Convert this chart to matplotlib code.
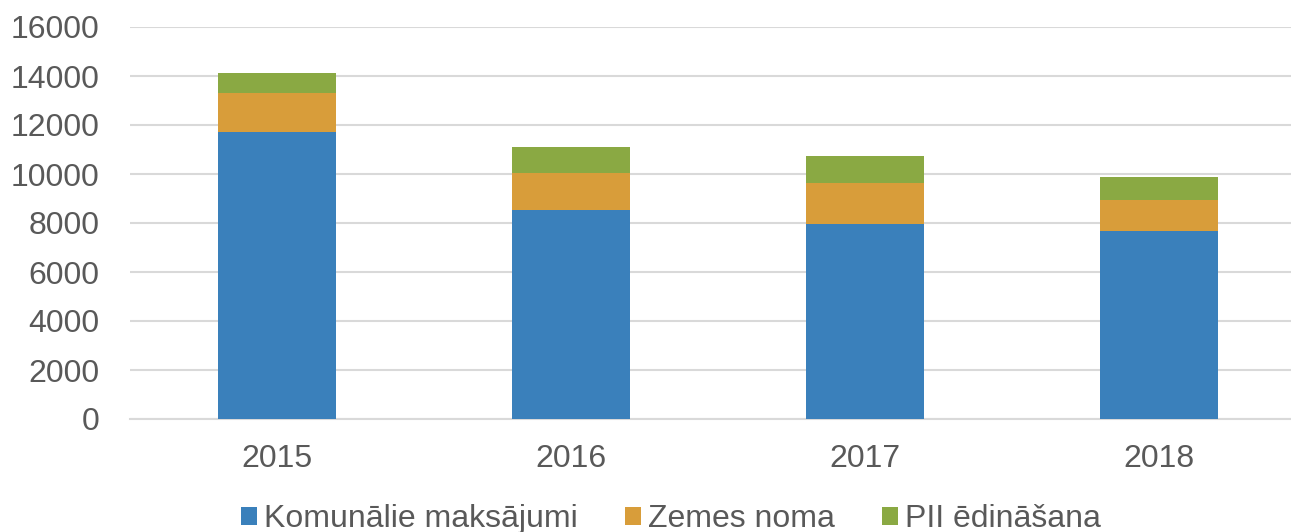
import numpy as np
import matplotlib.pyplot as plt

plt.rcParams['font.family'] = ['Liberation Sans', 'DejaVu Sans']

# data
years = ['2015', '2016', '2017', '2018']
komunalie = [11730, 8530, 7950, 7690]
zemes_noma = [1560, 1500, 1670, 1250]
pii = [820, 1060, 1115, 925]
series_names = ['Komunālie maksājumi', 'Zemes noma', 'PII ēdināšana']

colors = ['#3a80bb', '#d89d3a', '#8aa943']
text_col = '#595959'

fig = plt.figure(figsize=(12.91, 5.32), dpi=100)
ax = fig.add_axes([130 / 1291, 113 / 532, 1176 / 1291, 392 / 532])

x = np.arange(len(years))
w = 0.4
b1 = ax.bar(x, komunalie, w, color=colors[0], label=series_names[0], zorder=3)
b2 = ax.bar(x, zemes_noma, w, bottom=komunalie, color=colors[1], label=series_names[1], zorder=3)
bottom2 = np.array(komunalie) + np.array(zemes_noma)
b3 = ax.bar(x, pii, w, bottom=bottom2, color=colors[2], label=series_names[2], zorder=3)

ax.set_xlim(-0.5, 3.5)
ax.set_ylim(0, 16000)
ax.set_yticks(np.arange(0, 16001, 2000))
ax.set_xticks(x)
ax.set_xticklabels(years)
ax.yaxis.grid(True, color='#d9d9d9', linewidth=1.5, zorder=0)
ax.set_axisbelow(True)
for s in ['top', 'right', 'left']:
    ax.spines[s].set_visible(False)
ax.spines['bottom'].set_color('#d9d9d9')
ax.spines['bottom'].set_linewidth(1.5)
ax.tick_params(axis='both', length=0, labelsize=23, colors=text_col)
ax.tick_params(axis='y', pad=22)
ax.tick_params(axis='x', pad=18)

leg = fig.legend(handles=[b1, b2, b3], loc='center', bbox_to_anchor=(671 / 1291, 13 / 532),
                 ncol=3, frameon=False, fontsize=23, handlelength=0.5, handleheight=0.5,
                 handletextpad=0.2, columnspacing=1.5, borderpad=0)
for t in leg.get_texts():
    t.set_color(text_col)

fig.savefig('out.png', dpi=100)
